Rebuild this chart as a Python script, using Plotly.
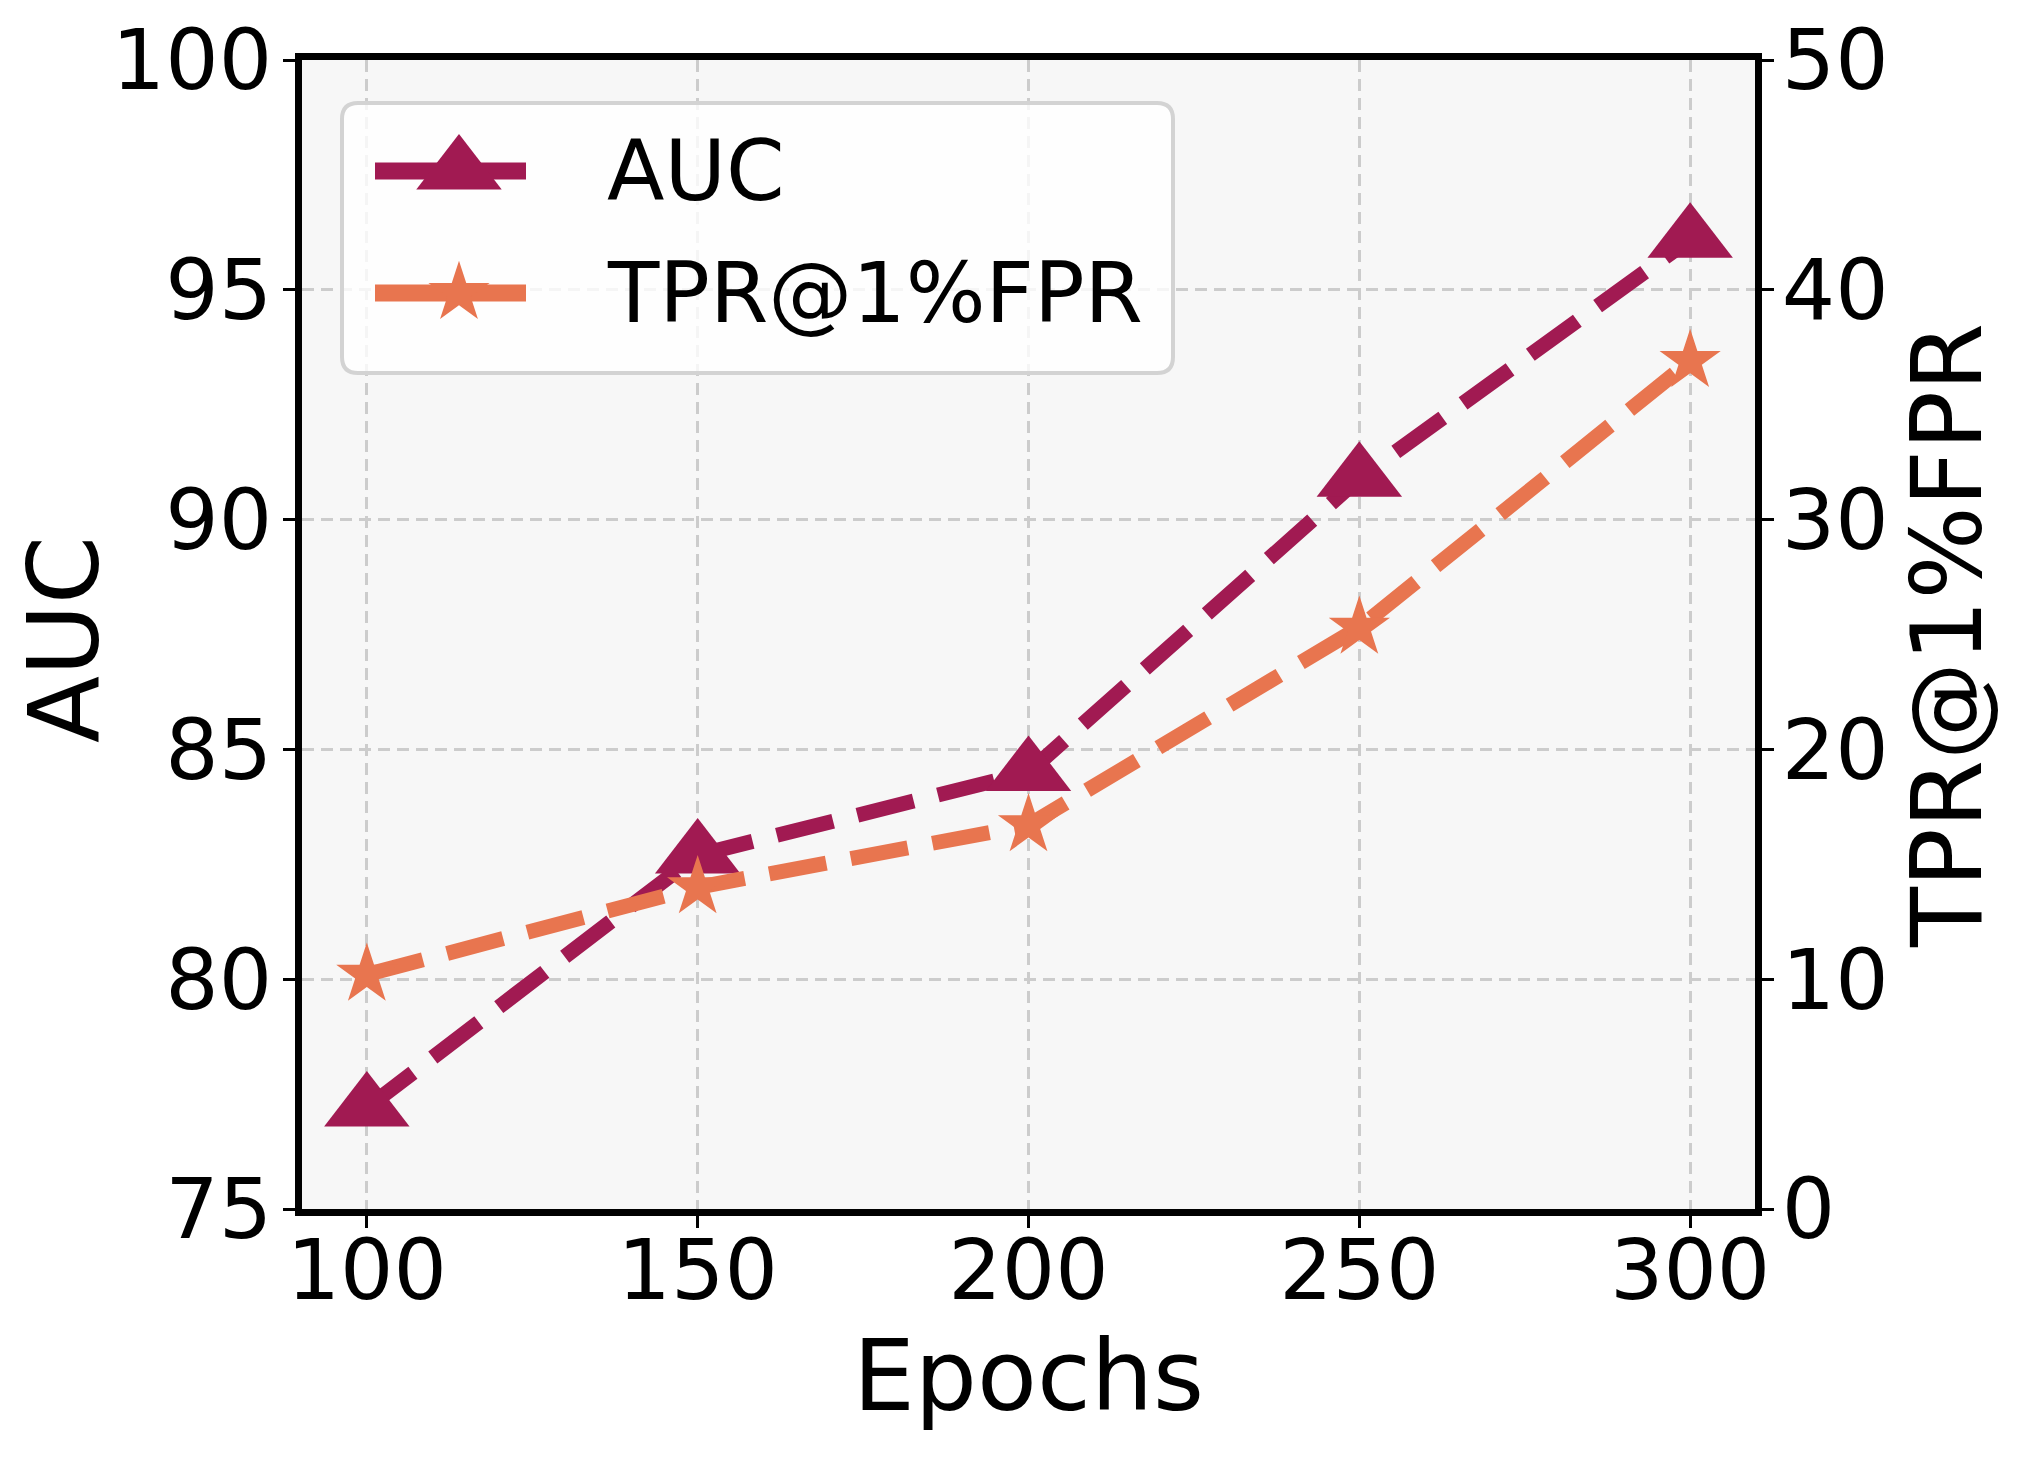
import plotly.graph_objects as go

# ---- data ----
epochs = [100, 150, 200, 250, 300]
auc = [77.2, 82.7, 84.5, 90.9, 96.1]
tpr = [10.2, 14.0, 16.7, 25.3, 36.9]
x_ticks = [100, 150, 200, 250, 300]
auc_ticks = [75, 80, 85, 90, 95, 100]
tpr_ticks = [0, 10, 20, 30, 40, 50]
series_names = ["AUC", "TPR@1%FPR"]
axis_titles = ["Epochs", "AUC", "TPR@1%FPR"]

# ---- style ----
FONT = "DejaVu Sans"
C_AUC = "#A11A52"
C_TPR = "#E8754F"
W, H = 2033, 1463
L, R, T, B = 302, 1755, 60, 1209
PW, PH = R - L, B - T
XR = [90.2, 309.8]
YR = [75, 100]
DASH = "58px,25px"
LW = 15
TRI = 74

fig = go.Figure()

fig.add_trace(go.Scatter(
    x=epochs, y=auc, mode="lines+markers", name=series_names[0],
    line=dict(color=C_AUC, width=LW, dash=DASH),
    marker=dict(symbol="triangle-up", size=TRI, color=C_AUC, line=dict(width=0)),
    showlegend=False, xaxis="x", yaxis="y"))

fig.add_trace(go.Scatter(
    x=epochs, y=tpr, mode="lines+markers", name=series_names[1],
    line=dict(color=C_TPR, width=LW, dash=DASH),
    marker=dict(symbol="star", size=46, color=C_TPR, line=dict(width=0)),
    showlegend=False, xaxis="x", yaxis="y2"))

# ---- custom legend on a pixel-unit helper axis ----
leg_x0, leg_y0, leg_x1, leg_y1 = 342 - L, 103 - T, 1173 - L, 373 - T
rows_y = [171 - T, 293 - T]
line_x = [375 - L, 526 - L]
mark_x = 459 - L
text_x = 605 - L

for name, col, mk, yy in [
    (series_names[0], C_AUC, dict(symbol="triangle-up", size=TRI), rows_y[0]),
    (series_names[1], C_TPR, dict(symbol="star", size=46), rows_y[1]),
]:
    fig.add_trace(go.Scatter(
        x=line_x, y=[yy, yy], mode="lines", line=dict(color=col, width=17),
        showlegend=False, hoverinfo="skip", xaxis="x3", yaxis="y3"))
    fig.add_trace(go.Scatter(
        x=[mark_x], y=[yy], mode="markers",
        marker=dict(color=col, line=dict(width=0), **mk),
        showlegend=False, hoverinfo="skip", xaxis="x3", yaxis="y3"))
    fig.add_annotation(x=text_x, y=yy, xref="x3", yref="y3", text=name,
                       showarrow=False, xanchor="left", yanchor="middle",
                       font=dict(family=FONT, size=84, color="black"))


def px2x(p):
    return XR[0] + p / PW * (XR[1] - XR[0])


def py2y(p):
    return YR[1] - p / PH * (YR[1] - YR[0])


def P(px, py):
    return f"{px2x(px):.4f},{py2y(py):.4f}"


rr = 16
path = (f"M{P(leg_x0+rr, leg_y0)} L{P(leg_x1-rr, leg_y0)} Q{P(leg_x1, leg_y0)} {P(leg_x1, leg_y0+rr)} "
        f"L{P(leg_x1, leg_y1-rr)} Q{P(leg_x1, leg_y1)} {P(leg_x1-rr, leg_y1)} "
        f"L{P(leg_x0+rr, leg_y1)} Q{P(leg_x0, leg_y1)} {P(leg_x0, leg_y1-rr)} "
        f"L{P(leg_x0, leg_y0+rr)} Q{P(leg_x0, leg_y0)} {P(leg_x0+rr, leg_y0)} Z")
fig.add_shape(type="path", path=path, xref="x", yref="y", layer="between",
              fillcolor="rgba(255,255,255,0.8)", line=dict(color="#d3d3d3", width=4))

tickfont = dict(family=FONT, size=84, color="black")
titlefont = dict(family=FONT, size=98, color="black")

# vertical axis titles as rotated annotations (paper coords)
fig.add_annotation(x=(64 - L) / PW, y=1 - (640 - T) / PH, xref="paper", yref="paper",
                   text=axis_titles[1], textangle=-90, showarrow=False,
                   xanchor="center", yanchor="middle", font=titlefont)
fig.add_annotation(x=(1947 - L) / PW, y=1 - (636 - T) / PH, xref="paper", yref="paper",
                   text=axis_titles[2], textangle=-90, showarrow=False,
                   xanchor="center", yanchor="middle", font=titlefont)

fig.update_layout(
    width=W, height=H,
    margin=dict(l=L, r=W - R, t=T, b=H - B, pad=0, autoexpand=False),
    paper_bgcolor="white", plot_bgcolor="#f7f7f7",
    font=dict(family=FONT, color="black"),
    showlegend=False,
    xaxis=dict(
        range=XR, tickvals=x_ticks, ticktext=[str(v) for v in x_ticks],
        tickfont=tickfont, ticks="outside", ticklen=12, tickwidth=3, tickcolor="black",
        showline=True, linecolor="black", linewidth=7, mirror=True,
        showgrid=True, gridcolor="#cccccc", gridwidth=3, griddash="12px,7px",
        zeroline=False, ticklabelstandoff=-30, automargin=False,
        title=dict(text=axis_titles[0], font=titlefont, standoff=18)),
    yaxis=dict(
        range=YR, tickvals=auc_ticks, tickfont=tickfont,
        ticks="outside", ticklen=12, tickwidth=3, tickcolor="black",
        showline=True, linecolor="black", linewidth=7,
        showgrid=True, gridcolor="#cccccc", gridwidth=3, griddash="12px,7px",
        zeroline=False, ticklabelstandoff=-6, automargin=False),
    yaxis2=dict(
        range=[0, 50], tickvals=tpr_ticks, tickfont=tickfont,
        overlaying="y", side="right", anchor="x",
        ticks="outside", ticklen=12, tickwidth=3, tickcolor="black",
        showline=True, linecolor="black", linewidth=7,
        showgrid=False, zeroline=False, ticklabelstandoff=-9, automargin=False),
    xaxis3=dict(range=[0, PW], overlaying="x", visible=False, anchor="y3", fixedrange=True),
    yaxis3=dict(range=[PH, 0], overlaying="y", visible=False, anchor="x3", fixedrange=True),
)

fig.write_html("out.html")
